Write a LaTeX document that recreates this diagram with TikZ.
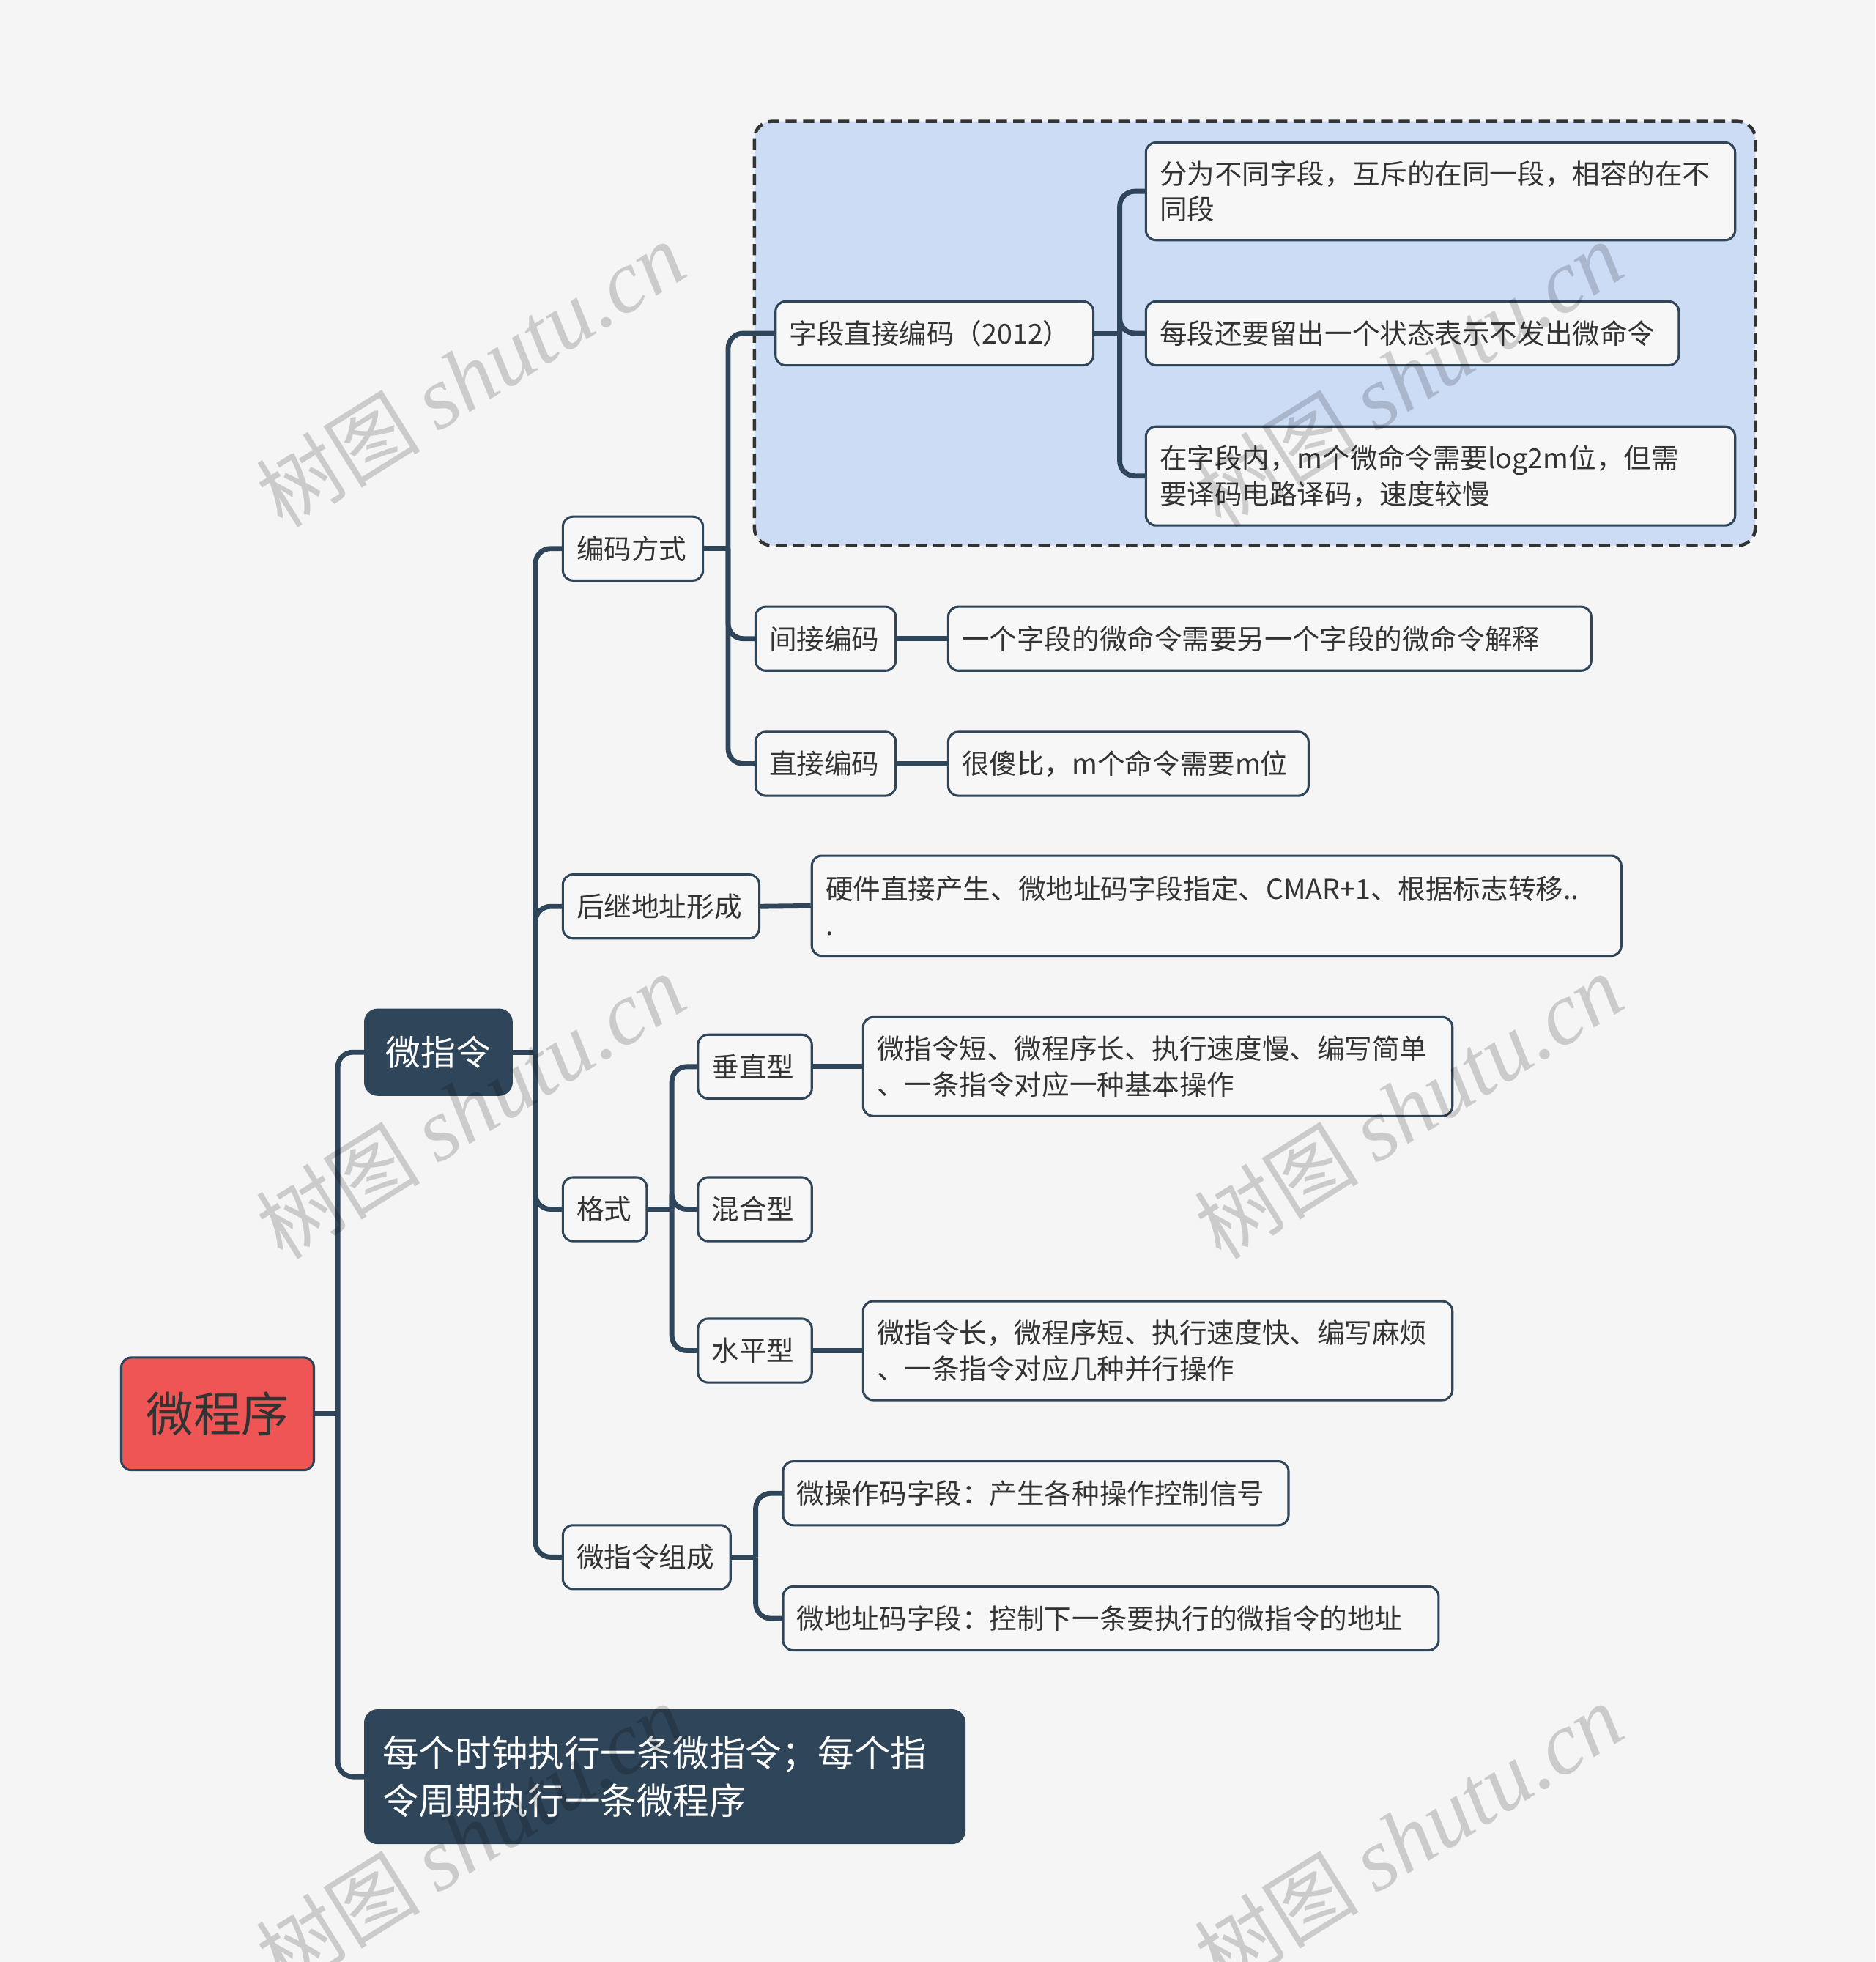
\documentclass[tikz,border=0pt]{standalone}
\usepackage{fontspec}
\newfontfamily\cjk{Noto Sans CJK SC}
\newfontfamily\wmserif{Liberation Serif}
\usetikzlibrary{backgrounds}
\definecolor{bgc}{HTML}{F5F5F5}
\definecolor{dk}{HTML}{2F4559}
\definecolor{nodef}{HTML}{F7F7F7}
\definecolor{grpf}{HTML}{CCDCF5}
\definecolor{rootf}{HTML}{EF5555}
\definecolor{txt}{HTML}{333333}
\tikzset{
  box/.style={draw=dk, line width=1.8pt, rounded corners=8pt, fill=nodef, anchor=north west,
    inner xsep=11pt, inner ysep=0pt, align=left, text=txt,
    font=\cjk\fontsize{22}{28.5}\selectfont},
  conn/.style={draw=dk, line width=4pt, rounded corners=12pt},
  grpbox/.style={draw=txt, line width=2.6pt, dash pattern=on 9pt off 5pt, fill=grpf, rounded corners=14pt},
  wmk/.style={text=black, text opacity=0.17, rotate=32, inner sep=0pt}
}
\newcommand\wmtext{{\cjk\fontsize{66}{72}\selectfont 树图}\hspace{14pt}{\wmserif\itshape\fontsize{71}{76}\selectfont shutu.cn}}
\begin{document}
\begin{tikzpicture}[x=1pt,y=-1pt]
\useasboundingbox (0,0) rectangle (1499,1568);

% level 0 / 1
\node[box, fill=rootf, minimum width=154pt, minimum height=90pt, text width=132pt, align=center,
  font=\cjk\fontsize{38}{44}\selectfont] (root) at (96,1084) {微程序};
\node[box, fill=dk, text=white, rounded corners=10pt, minimum width=117pt, minimum height=68pt,
  text width=95pt, align=center, font=\cjk\fontsize{28}{34}\selectfont] (mi) at (291,806) {微指令};
\node[box, fill=dk, text=white, rounded corners=10pt, minimum width=479pt, minimum height=106pt,
  inner xsep=14pt, text width=451pt, font=\cjk\fontsize{29}{38}\selectfont] (note) at (291,1366)
  {每个时钟执行一条微指令；每个指\\令周期执行一条微程序};

% level 2
\node[box, minimum width=112pt, minimum height=51pt, text width=90pt] (bm) at (449,412) {编码方式};
\node[box, minimum width=157pt, minimum height=51pt, text width=135pt] (hj) at (449,698) {后继地址形成};
\node[box, minimum width=67pt, minimum height=51pt, text width=45pt] (gs) at (449,940) {格式};
\node[box, minimum width=134pt, minimum height=51pt, text width=112pt] (zc) at (449,1218) {微指令组成};

% level 3: 编码方式
\node[box, minimum width=254pt, minimum height=51pt, text width=232pt] (zd) at (619,240) {字段直接编码（2012）};
\node[box, minimum width=112pt, minimum height=51pt, text width=90pt] (jj) at (603,484) {间接编码};
\node[box, minimum width=112pt, minimum height=51pt, text width=90pt] (zj) at (603,584) {直接编码};
\node[box, minimum width=514pt, minimum height=51pt, text width=492pt] (jjl) at (757,484) {一个字段的微命令需要另一个字段的微命令解释};
\node[box, minimum width=288pt, minimum height=51pt, text width=266pt] (zjl) at (757,584) {很傻比，m个命令需要m位};

% level 4: 字段直接编码
\node[box, minimum width=471pt, minimum height=78pt, text width=449pt] (f1) at (915,113) {分为不同字段，互斥的在同一段，相容的在不\\同段};
\node[box, minimum width=426pt, minimum height=51pt, text width=404pt] (f2) at (915,240) {每段还要留出一个状态表示不发出微命令};
\node[box, minimum width=471pt, minimum height=79pt, text width=449pt] (f3) at (915,340) {在字段内，m个微命令需要log2m位，但需\\要译码电路译码，速度较慢};

% 后继地址形成
\node[box, minimum width=647pt, minimum height=80pt, text width=625pt] (hjl) at (648,683) {硬件直接产生、微地址码字段指定、CMAR+1、根据标志转移..\\.};

% 格式
\node[box, minimum width=91pt, minimum height=51pt, text width=69pt] (cz) at (557,826) {垂直型};
\node[box, minimum width=91pt, minimum height=51pt, text width=69pt] (hh) at (557,940) {混合型};
\node[box, minimum width=91pt, minimum height=51pt, text width=69pt] (sp) at (557,1053) {水平型};
\node[box, minimum width=471pt, minimum height=79pt, text width=449pt] (czl) at (689,812) {微指令短、微程序长、执行速度慢、编写简单\\、一条指令对应一种基本操作};
\node[box, minimum width=471pt, minimum height=79pt, text width=449pt] (spl) at (689,1039) {微指令长，微程序短、执行速度快、编写麻烦\\、一条指令对应几种并行操作};

% 微指令组成
\node[box, minimum width=404pt, minimum height=51pt, text width=382pt] (wc1) at (625,1167) {微操作码字段：产生各种操作控制信号};
\node[box, minimum width=524pt, minimum height=51pt, text width=502pt] (wc2) at (625,1267) {微地址码字段：控制下一条要执行的微指令的地址};

\coordinate (t0) at (270,0);
\coordinate (t1) at (428,0);
\coordinate (t2) at (582,0);
\coordinate (t3) at (895,0);
\coordinate (t4) at (537,0);
\coordinate (t5) at (604,0);

\begin{pgfonlayer}{background}
\fill[bgc] (0,0) rectangle (1499,1568);
\path[grpbox] (603,97) rectangle (1403,436);
% root
\draw[conn] (root.east) -- (root.east -| t0);
\draw[conn] (root.east -| t0) |- (mi.west);
\draw[conn] (root.east -| t0) |- (note.west);
% 微指令
\draw[conn] (mi.east) -- (mi.east -| t1);
\draw[conn] (mi.east -| t1) |- (bm.west);
\draw[conn] (mi.east -| t1) |- (hj.west);
\draw[conn] (mi.east -| t1) |- (gs.west);
\draw[conn] (mi.east -| t1) |- (zc.west);
% 编码方式
\draw[conn] (bm.east) -- (bm.east -| t2);
\draw[conn] (bm.east -| t2) |- (zd.west);
\draw[conn] (bm.east -| t2) |- (jj.west);
\draw[conn] (bm.east -| t2) |- (zj.west);
\draw[conn] (jj.east) -- (jjl.west);
\draw[conn] (zj.east) -- (zjl.west);
% 字段直接编码
\draw[conn] (zd.east) -- (zd.east -| t3);
\draw[conn] (zd.east -| t3) |- (f1.west);
\draw[conn] (zd.east -| t3) |- (f2.west);
\draw[conn] (zd.east -| t3) |- (f3.west);
% 后继
\draw[conn] (hj.east) -- (hjl.west);
% 格式
\draw[conn] (gs.east) -- (gs.east -| t4);
\draw[conn] (gs.east -| t4) |- (cz.west);
\draw[conn] (gs.east -| t4) |- (hh.west);
\draw[conn] (gs.east -| t4) |- (sp.west);
\draw[conn] (cz.east) -- (czl.west);
\draw[conn] (sp.east) -- (spl.west);
% 微指令组成
\draw[conn] (zc.east) -- (zc.east -| t5);
\draw[conn] (zc.east -| t5) |- (wc1.west);
\draw[conn] (zc.east -| t5) |- (wc2.west);
\end{pgfonlayer}

% watermarks
\node[wmk] (w1) at (376,300) {\wmtext};
\node[wmk] (w2) at (1126,300) {\wmtext};
\node[wmk] (w3) at (376,885) {\wmtext};
\node[wmk] (w4) at (1126,885) {\wmtext};
\node[wmk] (w5) at (376,1468) {\wmtext};
\node[wmk] (w6) at (1126,1468) {\wmtext};
\end{tikzpicture}
\end{document}
